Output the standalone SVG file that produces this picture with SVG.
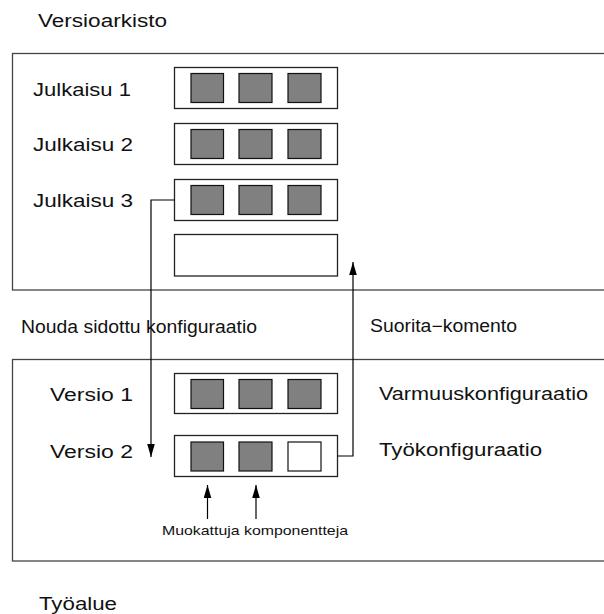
<svg xmlns="http://www.w3.org/2000/svg" width="604" height="614" viewBox="0 0 604 614">
  <style>
    .lbl { font-family: "Liberation Sans", Arial, Helvetica, sans-serif; font-size: 17.5px; fill: #111; }
    .small { font-family: "Liberation Sans", Arial, Helvetica, sans-serif; font-size: 13px; fill: #111; }
    .area { fill: #fff; stroke: #444; stroke-width: 1.3; }
    .row { fill: #fff; stroke: #222; stroke-width: 1.3; }
    .comp { fill: #808080; stroke: #111; stroke-width: 1.2; }
    .comp-new { fill: #fff; stroke: #111; stroke-width: 1.2; }
    .conn { fill: none; stroke: #000; stroke-width: 1.2; }
  </style>
  <defs>
    <marker id="arrow" markerUnits="userSpaceOnUse" markerWidth="13" markerHeight="8" refX="13" refY="3.8" orient="auto">
      <path d="M0,0 L13,3.8 L0,7.6 z" fill="#000"/>
    </marker>
    <g id="triple">
      <rect class="comp" x="16.5" y="6" width="32.5" height="29"/>
      <rect class="comp" x="64.5" y="6" width="33" height="29"/>
      <rect class="comp" x="113.5" y="6" width="33" height="29"/>
    </g>
  </defs>

  <!-- Repository area -->
  <g id="versioarkisto">
    <text class="lbl" x="38" y="27" textLength="129" lengthAdjust="spacingAndGlyphs">Versioarkisto</text>
    <rect class="area" x="12.5" y="53.5" width="600" height="236.5"/>
  </g>

  <g id="julkaisu1">
    <text class="lbl" x="33" y="96" textLength="98" lengthAdjust="spacingAndGlyphs">Julkaisu 1</text>
    <rect class="row" x="174.5" y="67.5" width="163" height="41"/>
    <use href="#triple" x="174.5" y="67.5"/>
  </g>

  <g id="julkaisu2">
    <text class="lbl" x="33" y="151" textLength="100" lengthAdjust="spacingAndGlyphs">Julkaisu 2</text>
    <rect class="row" x="174.5" y="123.5" width="163" height="41"/>
    <use href="#triple" x="174.5" y="123.5"/>
  </g>

  <g id="julkaisu3">
    <text class="lbl" x="33" y="207" textLength="100" lengthAdjust="spacingAndGlyphs">Julkaisu 3</text>
    <rect class="row" x="174.5" y="179.5" width="163" height="41"/>
    <use href="#triple" x="174.5" y="179.5"/>
  </g>

  <g id="tyhja-julkaisu">
    <rect class="row" x="174.5" y="234.5" width="163" height="41.5"/>
  </g>

  <!-- Workspace area -->
  <g id="tyoalue">
    <rect class="area" x="12.5" y="359.5" width="600" height="201.5"/>
    <text class="lbl" x="39" y="610" textLength="78" lengthAdjust="spacingAndGlyphs">Työalue</text>
  </g>

  <g id="versio1">
    <text class="lbl" x="50" y="401" textLength="83" lengthAdjust="spacingAndGlyphs">Versio 1</text>
    <rect class="row" x="174.5" y="373.5" width="163" height="40"/>
    <use href="#triple" x="174.5" y="373.5"/>
    <text class="lbl" x="379" y="400" textLength="209" lengthAdjust="spacingAndGlyphs">Varmuuskonfiguraatio</text>
  </g>

  <g id="versio2">
    <text class="lbl" x="50" y="458" textLength="83" lengthAdjust="spacingAndGlyphs">Versio 2</text>
    <rect class="row" x="174.5" y="435.5" width="163" height="41"/>
    <rect class="comp" x="191" y="442" width="32.5" height="29"/>
    <rect class="comp" x="239" y="442" width="33" height="29"/>
    <rect class="comp-new" x="288" y="442" width="33" height="29"/>
    <text class="lbl" x="379" y="456" textLength="163" lengthAdjust="spacingAndGlyphs">Työkonfiguraatio</text>
  </g>

  <!-- Connectors -->
  <g id="connectors">
    <polyline class="conn" points="174.5,200 151,200 151,457" marker-end="url(#arrow)"/>
    <polyline class="conn" points="337.5,456 353,456 353,262" marker-end="url(#arrow)"/>
    <line class="conn" x1="207.5" y1="519" x2="207.5" y2="485" marker-end="url(#arrow)"/>
    <line class="conn" x1="256" y1="519" x2="256" y2="485" marker-end="url(#arrow)"/>
    <text class="lbl" x="21" y="333" textLength="236" lengthAdjust="spacingAndGlyphs">Nouda sidottu konfiguraatio</text>
    <text class="lbl" x="370" y="332" textLength="147" lengthAdjust="spacingAndGlyphs">Suorita−komento</text>
    <text class="small" x="162" y="535" textLength="186" lengthAdjust="spacingAndGlyphs">Muokattuja komponentteja</text>
  </g>
</svg>
